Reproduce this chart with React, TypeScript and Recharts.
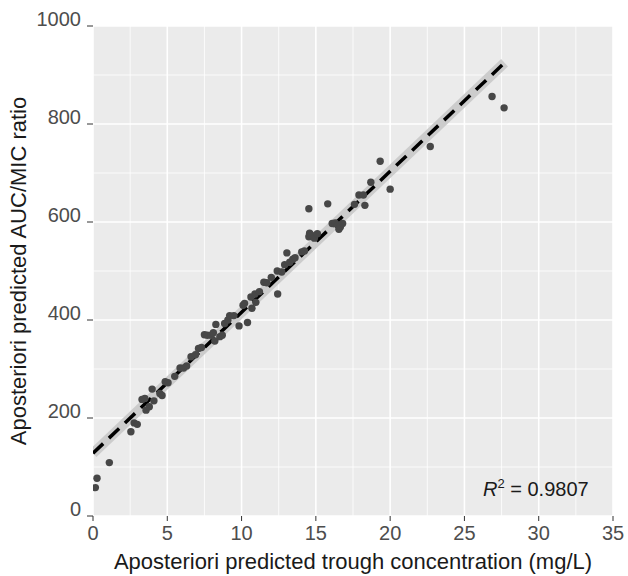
import React from "react";
import {
  ComposedChart,
  Scatter,
  Line,
  XAxis,
  YAxis,
  CartesianGrid,
  ReferenceLine,
} from "recharts";

// predicted trough concentration (mg/L) and AUC/MIC ratio per patient
const troughX = [
  0.16, 0.27, 1.1, 2.55, 2.77, 2.98, 3.3, 3.49, 3.57, 3.79, 3.98, 4.1, 4.5, 4.65,
  4.86, 5.05, 5.5, 5.86, 6.1, 6.3, 6.6, 6.9, 7.1, 7.3, 7.5, 7.7, 7.95, 8.1, 8.27,
  8.2, 8.54, 8.7, 8.86, 9.08, 9.2, 9.48, 9.83, 10.1, 10.2, 10.4, 10.63, 10.7,
  10.9, 10.96, 11.2, 11.5, 11.7, 12.0, 12.4, 12.43, 12.7, 12.9, 13.05, 13.24,
  13.45, 13.6, 14.05, 14.23, 14.53, 14.58, 14.53, 14.7, 14.9, 15.1, 15.8, 16.1,
  16.3, 16.46, 16.55, 16.65, 16.8, 17.6, 17.9, 18.2, 18.3, 18.7, 19.33, 20.0,
  22.7, 26.86, 27.67,
];
const aucY = [
  58, 77, 109, 172, 190, 187, 238, 240, 216, 223, 259, 235, 250, 246, 274, 272,
  285, 302, 302, 306, 325, 329, 342, 344, 370, 369, 369, 374, 391, 357, 366, 369,
  393, 400, 409, 409, 388, 430, 434, 395, 447, 424, 453, 436, 458, 477, 476, 487,
  500, 453, 498, 513, 537, 518, 524, 527, 539, 541, 627, 577, 570, 573, 567, 576,
  637, 597, 598, 594, 585, 590, 597, 636, 655, 655, 634, 681, 724, 667, 754, 856,
  833,
];

// regression line end points
const fitX = [0, 27.7];
const fitY = [128, 925];

const xTicks = [0, 5, 10, 15, 20, 25, 30, 35];
const yTicks = [0, 200, 400, 600, 800, 1000];
const xMinor = [2.5, 7.5, 12.5, 17.5, 22.5, 27.5, 32.5];
const yMinor = [100, 300, 500, 700, 900];

const points = troughX.map((x, i) => ({ x, y: aucY[i] }));
const fit = fitX.map((x, i) => ({ x, y: fitY[i] }));

const FONT = "'Liberation Sans', Arial, sans-serif";

const Dot = (p: any) => <circle cx={p.cx} cy={p.cy} r={3.7} fill="#474747" />;

export default function App() {
  return (
    <div style={{ position: "absolute", left: 0, top: 0, width: 628, height: 576, background: "#fff", fontFamily: FONT }}>
      <ComposedChart
        width={628}
        height={576}
        margin={{ top: 26, right: 15, bottom: 0, left: 0 }}
      >
        <CartesianGrid fill="#ebebeb" stroke="#ffffff" strokeWidth={1.6} />
        {xMinor.map((v) => (
          <ReferenceLine key={"mx" + v} x={v} stroke="#ffffff" strokeWidth={0.8} />
        ))}
        {yMinor.map((v) => (
          <ReferenceLine key={"my" + v} y={v} stroke="#ffffff" strokeWidth={0.8} />
        ))}
        <XAxis
          type="number"
          dataKey="x"
          domain={[0, 35]}
          ticks={xTicks}
          allowDataOverflow
          height={60}
          axisLine={false}
          tickLine={{ stroke: "#333", strokeWidth: 1 }}
          tickSize={5}
          tickMargin={5}
          tick={{ fill: "#4d4d4d", fontSize: 20, fontFamily: FONT }}
          label={{
            value: "Aposteriori predicted trough concentration (mg/L)",
            position: "insideBottom",
            offset: 7,
            style: { fill: "#1a1a1a", fontSize: 22, fontFamily: FONT },
          }}
        />
        <YAxis
          type="number"
          dataKey="y"
          domain={[0, 1000]}
          ticks={yTicks}
          allowDataOverflow
          width={93}
          axisLine={false}
          tickLine={{ stroke: "#333", strokeWidth: 1 }}
          tickSize={6}
          tickMargin={6}
          tick={{ fill: "#4d4d4d", fontSize: 20, fontFamily: FONT, dy: -7 }}
          label={{
            value: "Aposteriori predicted AUC/MIC ratio",
            angle: -90,
            position: "insideLeft",
            offset: 18,
            style: { textAnchor: "middle", fill: "#1a1a1a", fontSize: 22, fontFamily: FONT },
          }}
        />
        <Line
          data={fit}
          dataKey="y"
          type="linear"
          stroke="#cccccc"
          strokeWidth={10}
          dot={false}
          activeDot={false}
          isAnimationActive={false}
        />
        <Scatter data={points} dataKey="y" shape={Dot} isAnimationActive={false} />
        <Line
          data={fit}
          dataKey="y"
          type="linear"
          stroke="#000000"
          strokeWidth={3.5}
          strokeDasharray="14 8"
          dot={false}
          activeDot={false}
          isAnimationActive={false}
        />
      </ComposedChart>
      <div
        style={{
          position: "absolute",
          left: 483,
          top: 472,
          fontSize: 20,
          lineHeight: "24px",
          color: "#1a1a1a",
          whiteSpace: "nowrap",
        }}
      >
        <i>R</i>
        <sup style={{ fontSize: 13 }}>2</sup> = 0.9807
      </div>
    </div>
  );
}
